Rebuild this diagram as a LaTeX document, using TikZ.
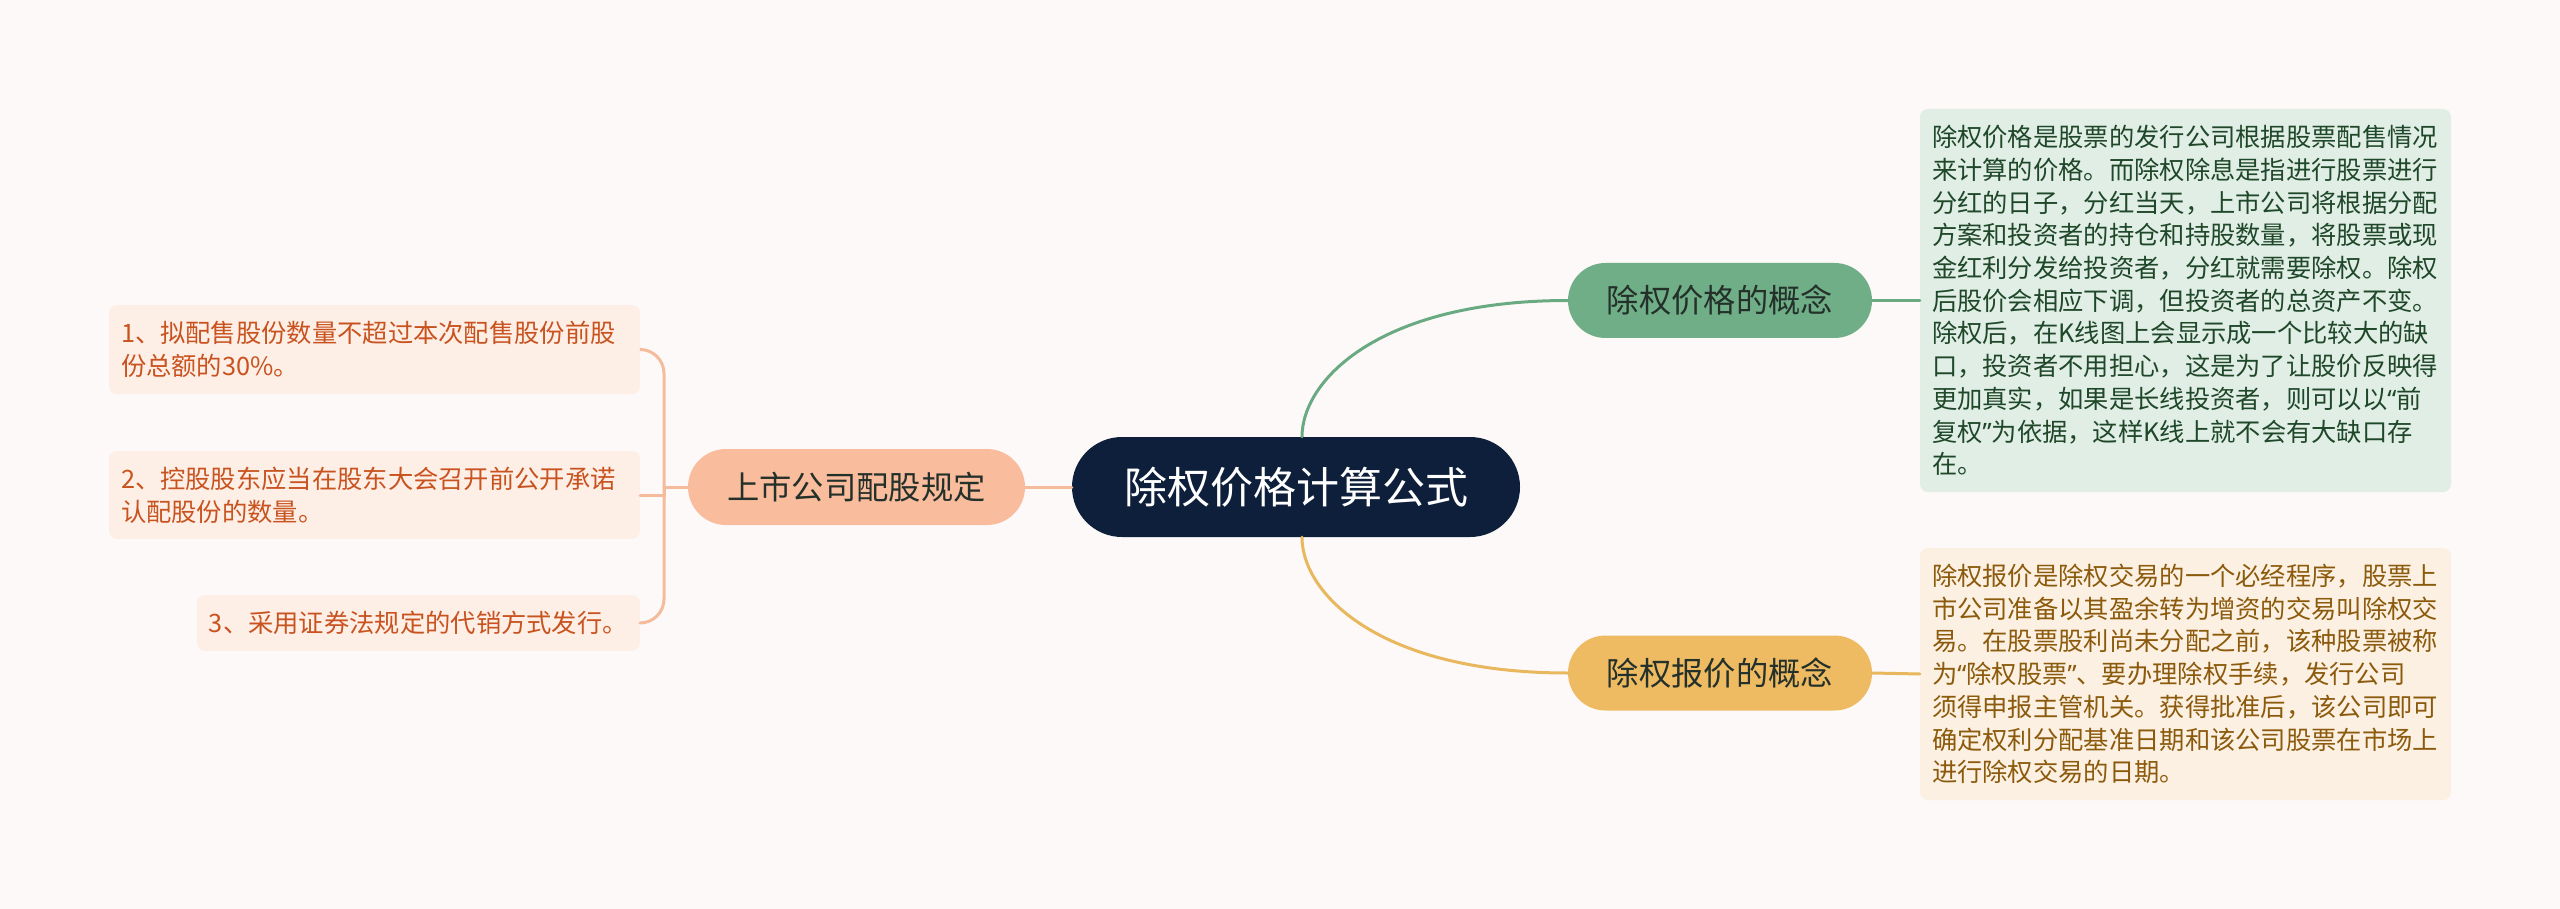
\documentclass[tikz,border=0pt]{standalone}
\usepackage{fontspec}
\setmainfont{Noto Sans CJK SC}
\newfontfamily\latinq{Noto Sans}
\newcommand{\myLQ}{{\latinq “}}
\newcommand{\myRQ}{{\latinq ”}}
\definecolor{bg}{HTML}{FDF9F8}
\definecolor{rootfill}{HTML}{0E1F3B}
\definecolor{gfill}{HTML}{6FAE86}
\definecolor{gline}{HTML}{6AAA82}
\definecolor{gboxfill}{HTML}{E1EEE5}
\definecolor{gtext}{HTML}{1F4729}
\definecolor{ofill}{HTML}{EEBB63}
\definecolor{oline}{HTML}{E9B75D}
\definecolor{oboxfill}{HTML}{FBF0E1}
\definecolor{otext}{HTML}{8C5A0C}
\definecolor{pfill}{HTML}{F9BC9C}
\definecolor{pline}{HTML}{F5BC9C}
\definecolor{pboxfill}{HTML}{FDEEE6}
\definecolor{ptext}{HTML}{C9531F}
\definecolor{darktext}{HTML}{24302A}
\begin{document}
\begin{tikzpicture}[x=1pt,y=-1pt,
  pill/.style={rectangle, rounded corners=37.5pt, minimum height=75pt, inner sep=0pt,
    font=\fontsize{32.3}{38}\selectfont},
  txtbox/.style={rectangle, rounded corners=8pt, inner xsep=12pt, inner ysep=0pt,
    align=left, font=\fontsize{25.3}{32.7}\selectfont},
  link/.style={line width=3pt, line cap=round}
]
\useasboundingbox[fill=bg] (0,0) rectangle (2560,909);

% root
\node[rectangle, rounded corners=50pt, minimum width=448pt, minimum height=100pt,
  fill=rootfill, text=white, font=\fontsize{43}{50}\selectfont] (root) at (1296,487) {除权价格计算公式};

% branch nodes
\node[pill, fill=gfill, text=darktext, minimum width=304pt] (gnode) at (1720,300.5) {除权价格的概念};
\node[pill, fill=ofill, text=darktext, minimum width=304pt] (onode) at (1720,673) {除权报价的概念};
\node[pill, fill=pfill, text=darktext, minimum width=337pt, minimum height=76pt, rounded corners=38pt] (lnode) at (856.5,487) {上市公司配股规定};

% right text boxes
\node[txtbox, fill=gboxfill, text=gtext, text width=507pt, minimum width=531pt, minimum height=383pt] (gbox) at (2185.5,300.5)
{除权价格是股票的发行公司根据股票配售情况\\
来计算的价格。而除权除息是指进行股票进行\\
分红的日子，分红当天，上市公司将根据分配\\
方案和投资者的持仓和持股数量，将股票或现\\
金红利分发给投资者，分红就需要除权。除权\\
后股价会相应下调，但投资者的总资产不变。\\
除权后，在K线图上会显示成一个比较大的缺\\
口，投资者不用担心，这是为了让股价反映得\\
更加真实，如果是长线投资者，则可以以\myLQ 前\\
复权\myRQ 为依据，这样K线上就不会有大缺口存\\
在。};

\node[txtbox, fill=oboxfill, text=otext, text width=507pt, minimum width=531pt, minimum height=252pt] (obox) at (2185.5,674)
{除权报价是除权交易的一个必经程序，股票上\\
市公司准备以其盈余转为增资的交易叫除权交\\
易。在股票股利尚未分配之前，该种股票被称\\
为\myLQ 除权股票\myRQ 、要办理除权手续，发行公司\\
须得申报主管机关。获得批准后，该公司即可\\
确定权利分配基准日期和该公司股票在市场上\\
进行除权交易的日期。};

% left text boxes
\node[txtbox, fill=pboxfill, text=ptext, text width=507pt, minimum width=531pt, minimum height=89pt] (l1) at (374.5,349.5)
{1、拟配售股份数量不超过本次配售股份前股\\份总额的30\%。};
\node[txtbox, fill=pboxfill, text=ptext, text width=507pt, minimum width=531pt, minimum height=88pt] (l2) at (374.5,495)
{2、控股股东应当在股东大会召开前公开承诺\\认配股份的数量。};
\node[txtbox, fill=pboxfill, text=ptext, minimum height=56pt, anchor=east] (l3) at (640,623)
{3、采用证券法规定的代销方式发行。};

% connectors right
\draw[link, gline] ([xshift=6pt]root.north) .. controls +(0,-57) and +(-188,0) .. (gnode.west);
\draw[link, gline] (gnode.east) -- (gbox.west);
\draw[link, oline] ([xshift=6pt]root.south) .. controls +(0,57) and +(-188,0) .. (onode.west);
\draw[link, oline] (onode.east) -- (obox.west);

% connectors left
\coordinate (J) at (664,487);
\draw[link, pline] (root.west) -- (lnode.east);
\draw[link, pline] (lnode.west) -- (J);
\draw[link, pline, rounded corners=24pt] (J) |- (l1.east);
\draw[link, pline, rounded corners=24pt] (J) |- (l3.east);
\draw[link, pline] (J) |- (l2.east);
\end{tikzpicture}
\end{document}
